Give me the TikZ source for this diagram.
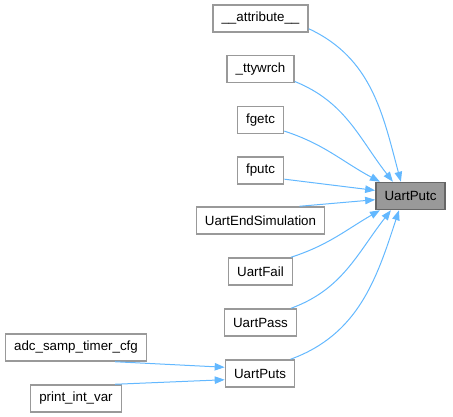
\documentclass[tikz,border=0pt]{standalone}
\usepackage{fontspec}
\setmainfont{Liberation Sans}
\usepackage{tikz}
\usepackage{xcolor}
\usetikzlibrary{arrows.meta,positioning}
\definecolor{edgeblue}{HTML}{63B8FF}
\definecolor{boxgray}{HTML}{999999}
\definecolor{darkgray}{HTML}{666666}

\begin{document}
\begin{tikzpicture}[x=0.75pt, y=0.75pt, font=\fontsize{10pt}{12pt}\selectfont,
    fn/.style={draw=boxgray, line width=1.1pt, fill=white, minimum height=20.25pt, inner xsep=6.5pt, inner ysep=0pt},
    calls/.style={draw=edgeblue, line width=0.75pt, -{Triangle[length=7.5pt, width=5.6pt]}}]
  \useasboundingbox (0,0) rectangle (453,417);

  % the called function
  \node[fn, draw=darkgray, fill=boxgray] (putc) at (410.5,221) {UartPutc};

  % callers
  \node[fn] (attr)   at (260.5,398.5) {\_\_attribute\_\_};
  \node[fn] (tty)    at (260.5,348)   {\_ttywrch};
  \node[fn] (fgetc)  at (260.5,297)   {fgetc};
  \node[fn] (fputc)  at (260.5,246.5) {fputc};
  \node[fn] (endsim) at (260.5,196.5) {UartEndSimulation};
  \node[fn] (fail)   at (260.5,145.5) {UartFail};
  \node[fn] (pass)   at (260.5,94.5)  {UartPass};
  \node[fn] (puts)   at (260,43.5)    {UartPuts};

  % callers of UartPuts
  \node[fn] (adc)  at (76,69.5) {adc\_samp\_timer\_cfg};
  \node[fn] (pint) at (76,18.5) {print\_int\_var};

  \draw[calls] (attr.-12) to[out=-25, in=105] (putc.124);
  \draw[calls] (tty.-20) to[out=-22, in=128] (putc.141);
  \draw[calls] (fgetc.-25) to[out=-18, in=152] (putc.155);
  \draw[calls] (fputc.-20) -- (putc.171);
  \draw[calls] (endsim.20) -- (putc.186);
  \draw[calls] (fail.25) to[out=18, in=-150] (putc.205);
  \draw[calls] (pass.25) to[out=20, in=-128] (putc.216);
  \draw[calls] (puts.25) to[out=20, in=-108] (putc.231);
  \draw[calls] (adc.-20) -- (puts.170);
  \draw[calls] (pint.20) -- (puts.190);
\end{tikzpicture}
\end{document}
